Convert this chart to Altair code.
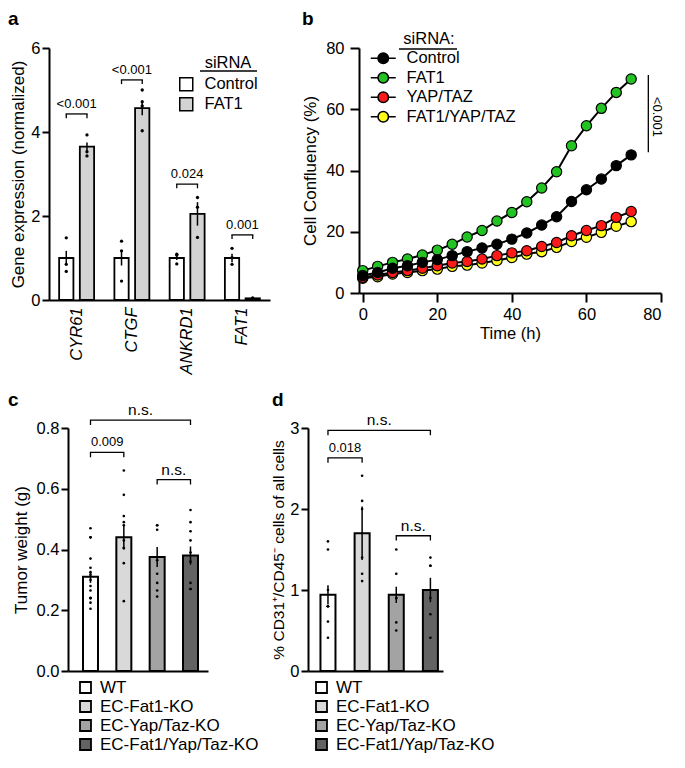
import altair as alt
import pandas as pd

FONT = "Liberation Sans"
LFS = 16.5   # tick / legend label size
TFS = 17     # axis title size

# ---------------- Panel a data ----------------
genes = ["CYR61", "CTGF", "ANKRD1", "FAT1"]
a_groups = ["Control", "FAT1"]
a_colors = ["#ffffff", "#d3d3d3"]
a_mean_control = [1.00, 1.00, 1.00, 1.00]
a_mean_fat1 = [3.65, 4.57, 2.05, 0.04]
a_sem_control = [0.17, 0.18, 0.05, 0.10]
a_sem_fat1 = [0.10, 0.17, 0.28, 0.01]
a_dots_control = [[1.48, 0.85, 0.68], [1.40, 1.17, 0.45], [1.09, 1.07, 0.86], [1.23, 1.01, 0.85]]
a_dots_fat1 = [[3.93, 3.53, 3.43], [5.00, 4.72, 4.62, 4.03], [2.44, 2.21, 1.49], [0.05, 0.04, 0.03]]
a_pvals = ["<0.001", "<0.001", "0.024", "0.001"]
a_bracket_y = [4.43, 5.24, 2.76, 1.55]
a_tick = 0.1

# ---------------- Panel b data ----------------
b_series = ["Control", "FAT1", "YAP/TAZ", "FAT1/YAP/TAZ"]
b_colors = ["#000000", "#22c322", "#ff1a1a", "#ffff1a"]
b_time = [0, 4, 8, 12, 16, 20, 24, 28, 32, 36, 40, 44, 48, 52, 56, 60, 64, 68, 72]
b_control = [5.7, 6.7, 8.1, 8.9, 10.0, 10.9, 12.2, 13.5, 14.7, 15.9, 17.6, 19.6, 22.2, 24.9, 29.9, 33.7, 37.2, 41.6, 45.1]
b_fat1 = [7.3, 8.7, 10.0, 11.1, 12.4, 14.0, 15.9, 18.3, 20.4, 23.5, 26.3, 29.8, 34.3, 39.6, 48.1, 54.6, 60.3, 65.5, 69.9]
b_yaptaz = [5.1, 5.9, 6.7, 7.3, 8.1, 8.9, 9.8, 10.3, 11.1, 12.2, 13.1, 13.8, 15.2, 16.5, 18.7, 20.4, 22.0, 24.7, 26.6]
b_fat1yaptaz = [4.8, 5.3, 6.2, 6.7, 7.3, 7.8, 8.7, 9.1, 9.8, 10.6, 11.6, 12.7, 13.5, 14.9, 16.8, 18.2, 19.8, 21.8, 23.3]
b_sig_x = [76.6]
b_sig_lo = [46.0]
b_sig_hi = [71.2]
b_sig_label = ["<0.001"]
b_sig_label_x = [79.0]
b_sig_label_y = [57.5]

# ---------------- Panel c data ----------------
cd_groups = ["WT", "EC-Fat1-KO", "EC-Yap/Taz-KO", "EC-Fat1/Yap/Taz-KO"]
cd_colors = ["#ffffff", "#d9d9d9", "#a3a3a3", "#636363"]
c_mean = [0.31, 0.44, 0.375, 0.38]
c_sem = [0.02, 0.04, 0.033, 0.03]
c_dots = [
    [0.47, 0.44, 0.44, 0.37, 0.34, 0.325, 0.317, 0.30, 0.28, 0.265, 0.24, 0.24, 0.24, 0.225, 0.205],
    [0.66, 0.58, 0.51, 0.49, 0.48, 0.43, 0.405, 0.405, 0.355, 0.23],
    [0.48, 0.48, 0.465, 0.365, 0.32, 0.29, 0.265, 0.245],
    [0.53, 0.49, 0.46, 0.43, 0.39, 0.36, 0.29, 0.27, 0.27],
]
c_dot_cols = [
    ["C", "L", "R", "C", "C", "L", "R", "C", "C", "C", "L", "C", "R", "C", "C"],
    ["C", "C", "C", "R", "L", "C", "L", "R", "C", "C"],
    ["L", "R", "C", "C", "C", "C", "C", "C"],
    ["C", "C", "C", "C", "C", "C", "C", "L", "R"],
]
c_br_from = ["WT", "WT", "EC-Yap/Taz-KO"]
c_br_to = ["EC-Fat1-KO", "EC-Fat1/Yap/Taz-KO", "EC-Fat1/Yap/Taz-KO"]
c_br_anchor = ["WT", "EC-Fat1-KO", "EC-Yap/Taz-KO"]
c_br_y = [0.72, 0.826, 0.63]
c_br_label = ["0.009", "n.s.", "n.s."]
c_br_fs = [13, 15.5, 15.5]
c_tick = 0.016

# ---------------- Panel d data ----------------
d_mean = [0.94, 1.70, 0.94, 1.00]
d_sem = [0.12, 0.33, 0.10, 0.15]
d_dots = [
    [1.60, 1.50, 1.00, 0.80, 0.80, 0.80, 0.61, 0.41],
    [2.41, 2.10, 2.00, 1.40, 1.20, 1.11],
    [1.50, 1.20, 0.90, 0.90, 0.60, 0.50],
    [1.40, 1.30, 1.30, 0.90, 0.70, 0.41],
]
d_dot_cols = [
    ["C", "C", "C", "L", "C", "R", "C", "C"],
    ["C", "C", "C", "C", "C", "C"],
    ["C", "C", "L", "R", "C", "C"],
    ["C", "L", "R", "C", "C", "C"],
]
d_br_from = ["WT", "WT", "EC-Yap/Taz-KO"]
d_br_to = ["EC-Fat1-KO", "EC-Fat1/Yap/Taz-KO", "EC-Fat1/Yap/Taz-KO"]
d_br_anchor = ["WT", "EC-Fat1-KO", "EC-Yap/Taz-KO"]
d_br_y = [2.63, 2.97, 1.67]
d_br_label = ["0.018", "n.s.", "n.s."]
d_br_fs = [13, 15.5, 15.5]
d_tick = 0.06


def letter(ch, dx, dy):
    return alt.Chart(pd.DataFrame({"t": [ch]})).mark_text(
        fontSize=19, fontWeight="bold", align="left", baseline="top", font=FONT
    ).encode(text="t:N", x=alt.value(dx), y=alt.value(dy))


def free_text(s, x, y, size=LFS):
    return alt.Chart(pd.DataFrame({"t": [s]})).mark_text(
        fontSize=size, align="center", baseline="middle", font=FONT, color="black"
    ).encode(text="t:N", x=alt.value(x), y=alt.value(y))


def free_rule(x1, x2, y):
    return alt.Chart(pd.DataFrame({"t": [0]})).mark_rule(color="black", strokeWidth=1.3).encode(
        x=alt.value(x1), x2=alt.value(x2), y=alt.value(y))


# ================= Panel a =================
A_W, A_H = 221, 252
A_PI, A_PO = 0.31, 0.49
a_off_step = (A_W / len(genes)) / (len(a_groups) - A_PI + 2 * A_PO)

rows = []
for i, g in enumerate(genes):
    rows.append(dict(gene=g, grp="Control", y=a_mean_control[i],
                     lo=a_mean_control[i] - a_sem_control[i], hi=a_mean_control[i] + a_sem_control[i]))
    rows.append(dict(gene=g, grp="FAT1", y=a_mean_fat1[i],
                     lo=a_mean_fat1[i] - a_sem_fat1[i], hi=a_mean_fat1[i] + a_sem_fat1[i]))
a_bars = pd.DataFrame(rows)

drows = []
for i, g in enumerate(genes):
    for v in a_dots_control[i]:
        drows.append(dict(gene=g, grp="Control", y=v))
    for v in a_dots_fat1[i]:
        drows.append(dict(gene=g, grp="FAT1", y=v))
a_dots = pd.DataFrame(drows)

brows = []
for i, g in enumerate(genes):
    for grp in a_groups:
        brows.append(dict(gene=g, grp=grp, y=a_bracket_y[i] - a_tick, y2=a_bracket_y[i]))
a_br_ticks = pd.DataFrame(brows)
a_lab = pd.DataFrame(dict(gene=genes, y=a_bracket_y, t=a_pvals))

ax_a_x = alt.Axis(title=None, labelAngle=270, labelFontStyle="italic", labelFontSize=LFS,
                  ticks=False, labelPadding=7)
ax_a_y = alt.Axis(title="Gene expression (normalized)", values=[0, 2, 4, 6], tickSize=7,
                  labelPadding=2, titlePadding=3, labelFontSize=LFS, titleFontSize=TFS)
xs_a = alt.Scale(domain=genes, paddingInner=0, paddingOuter=0)
ys_a = alt.Scale(domain=[0, 6])
xo_a = alt.XOffset("grp:N", scale=alt.Scale(domain=a_groups, paddingInner=A_PI, paddingOuter=A_PO))


def XA():
    return alt.X("gene:N", sort=genes, scale=xs_a, axis=ax_a_x)


def YA(f="y"):
    return alt.Y(f + ":Q", scale=ys_a, axis=ax_a_y)


a_bar = alt.Chart(a_bars).mark_bar(stroke="black", strokeWidth=1.8).encode(
    x=XA(), xOffset=xo_a, y=YA(),
    fill=alt.Fill("grp:N", scale=alt.Scale(domain=a_groups, range=a_colors),
                  legend=alt.Legend(title=None, orient="none", legendX=129, legendY=28,
                                    symbolType="square", symbolSize=169, symbolStrokeColor="black",
                                    symbolStrokeWidth=1.5, labelFontSize=LFS, labelFont=FONT,
                                    labelOffset=10, rowPadding=0, padding=0, labelColor="black")))
a_err = alt.Chart(a_bars).mark_rule(color="black", strokeWidth=1.5).encode(
    x=XA(), xOffset=xo_a, y=YA("lo"), y2="hi:Q")
a_dot = alt.Chart(a_dots).mark_circle(color="black", size=11, opacity=1).encode(
    x=XA(), xOffset=xo_a, y=YA())
a_brk_v = alt.Chart(a_br_ticks).mark_rule(color="black", strokeWidth=1.3).encode(
    x=XA(), xOffset=xo_a, y=YA(), y2="y2:Q")
a_brk_h = alt.Chart(a_lab).mark_tick(color="black", thickness=1.3, size=a_off_step + 1.3,
                                     orient="horizontal", opacity=1).encode(x=XA(), y=YA())
a_txt = alt.Chart(a_lab).mark_text(fontSize=13, dy=-10, font=FONT, color="black").encode(
    x=XA(), y=YA(), text="t:N")

panel_a = alt.layer(
    a_bar, a_err, a_dot, a_brk_v, a_brk_h, a_txt,
    free_text("siRNA", 179, 15), free_rule(151, 208, 23),
    letter("a", -41, -38),
).properties(width=A_W, height=A_H)

# ================= Panel b =================
order_draw = ["FAT1/YAP/TAZ", "YAP/TAZ", "FAT1", "Control"]
series_vals = {"Control": b_control, "FAT1": b_fat1, "YAP/TAZ": b_yaptaz, "FAT1/YAP/TAZ": b_fat1yaptaz}
brows = []
for s in order_draw:
    for t, v in zip(b_time, series_vals[s]):
        brows.append(dict(s=s, t=t, y=v))
b_df = pd.DataFrame(brows)

ax_b_x = alt.Axis(title="Time (h)", values=[0, 20, 40, 60, 80], tickSize=9, labelPadding=4,
                  titlePadding=3, labelFontSize=LFS, titleFontSize=LFS)
ax_b_y = alt.Axis(title="Cell Confluency (%)", values=[0, 20, 40, 60, 80], tickSize=9, labelPadding=6,
                  titlePadding=6, labelFontSize=LFS, titleFontSize=TFS)
xs_b = alt.Scale(domain=[-1, 80], nice=False)
ys_b = alt.Scale(domain=[0, 80], nice=False)


def XB(f="t"):
    return alt.X(f + ":Q", scale=xs_b, axis=ax_b_x)


def YB(f="y"):
    return alt.Y(f + ":Q", scale=ys_b, axis=ax_b_y)


sym_path = "M-2.08,0H-0.87M0.87,0H2.08M0.87,0A0.87,0.87,0,1,1,-0.87,0A0.87,0.87,0,1,1,0.87,0Z"
b_line = alt.Chart(b_df).mark_line(color="black", strokeWidth=2).encode(
    x=XB(), y=YB(), detail="s:N", order="t:Q")
b_pts = alt.Chart(b_df).mark_circle(size=105, stroke="black", strokeWidth=1.2, opacity=1).encode(
    x=XB(), y=YB(),
    color=alt.Color("s:N", scale=alt.Scale(domain=b_series, range=b_colors),
                    legend=alt.Legend(title=None, orient="none", legendX=16, legendY=2,
                                      symbolType=sym_path, symbolSize=144, symbolStrokeColor="black",
                                      symbolStrokeWidth=1.6, symbolOpacity=1, labelFontSize=LFS,
                                      labelFont=FONT, labelOffset=15, rowPadding=1.5, padding=0,
                                      labelColor="black")))
b_sig = alt.Chart(pd.DataFrame(dict(t=b_sig_x, y=b_sig_lo, y2=b_sig_hi))).mark_rule(
    color="black", strokeWidth=1.3).encode(x=XB(), y=YB(), y2="y2:Q")
b_sig_t = alt.Chart(pd.DataFrame(dict(t=b_sig_label_x, y=b_sig_label_y, lab=b_sig_label))).mark_text(
    angle=90, fontSize=13, font=FONT, color="black").encode(x=XB(), y=YB(), text="lab:N")

panel_b = alt.layer(
    b_line, b_pts, b_sig, b_sig_t,
    free_text("siRNA:", 70, -9), free_rule(40, 98, 1),
    letter("b", -57, -38),
).properties(width=302, height=245)


# ================= Panels c / d =================
def bar_panel(mean, sem, dots, dcols, br_from, br_to, br_anchor, br_y, br_lab, br_fs, tick,
              ymax, yvals, yfmt, ytitle, ytfs, tpad, width, lead, height, pin, pout, align,
              leg_x, leg_y, let, let_x, let_y, key):
    # `lead`: empty strip (px) left of the y axis inside the view
    g = key + "g"
    bars = pd.DataFrame({g: cd_groups, "y": mean,
                         "lo": [m - s for m, s in zip(mean, sem)],
                         "hi": [m + s for m, s in zip(mean, sem)]})
    drows = []
    for i, grp in enumerate(cd_groups):
        for v, c in zip(dots[i], dcols[i]):
            drows.append({g: grp, "y": v, "col": c})
    ddf = pd.DataFrame(drows)
    brows = []
    for j in range(len(br_y)):
        b = br_y[j]
        brows += [{g: br_from[j], "y": b - tick, "k": 0, "id": j},
                  {g: br_from[j], "y": b, "k": 1, "id": j},
                  {g: br_to[j], "y": b, "k": 2, "id": j},
                  {g: br_to[j], "y": b - tick, "k": 3, "id": j}]
    bdf = pd.DataFrame(brows)

    xs = alt.Scale(domain=cd_groups, paddingInner=pin, paddingOuter=pout, align=align,
                   range=[lead, lead + width])
    ys = alt.Scale(domain=[0, ymax], nice=False)
    ax_x = alt.Axis(title=None, labels=False, ticks=False)
    ax_y = alt.Axis(title=ytitle, values=yvals, format=yfmt, tickSize=7, labelPadding=2,
                    titlePadding=tpad, labelFontSize=LFS, titleFontSize=ytfs, offset=-lead)

    def X():
        return alt.X(g + ":N", sort=cd_groups, scale=xs, axis=ax_x)

    def Y(f="y"):
        return alt.Y(f + ":Q", scale=ys, axis=ax_y)

    bar = alt.Chart(bars).mark_bar(stroke="black", strokeWidth=2).encode(
        x=X(), y=Y(),
        fill=alt.Fill(g + ":N", scale=alt.Scale(domain=cd_groups, range=cd_colors),
                      legend=alt.Legend(title=None, orient="none", legendX=lead + leg_x, legendY=leg_y,
                                        symbolType="square", symbolSize=121, symbolStrokeColor="black",
                                        symbolStrokeWidth=1.8, labelFontSize=TFS, labelFont=FONT,
                                        labelOffset=6, rowPadding=0, padding=0, labelLimit=400,
                                        labelColor="black")))
    err = alt.Chart(bars).mark_rule(color="black", strokeWidth=1.5).encode(
        x=X(), y=Y("lo"), y2="hi:Q")
    layers = [bar, err]
    for col, dx in (("L", -3), ("C", 0), ("R", 3)):
        layers.append(alt.Chart(ddf).transform_filter(alt.datum.col == col).mark_circle(
            color="black", size=7, opacity=1, dx=dx).encode(x=X(), y=Y()))
    brk = alt.Chart(bdf).mark_line(color="black", strokeWidth=1.3).encode(
        x=X(), y=Y(), detail="id:N", order="k:Q")
    layers.append(brk)
    half = width / (len(cd_groups) - pin + 2 * pout) / 2
    for j in range(len(br_y)):
        tdf = pd.DataFrame({g: [br_anchor[j]], "y": [br_y[j]], "t": [br_lab[j]]})
        layers.append(alt.Chart(tdf).mark_text(fontSize=br_fs[j], dy=-10, dx=half,
                                               font=FONT, color="black").encode(x=X(), y=Y(), text="t:N"))
    layers.append(letter(let, lead + let_x, let_y))
    return alt.layer(*layers).properties(width=lead + width, height=height)


panel_c = bar_panel(c_mean, c_sem, c_dots, c_dot_cols, c_br_from, c_br_to, c_br_anchor, c_br_y,
                    c_br_label, c_br_fs, c_tick, 0.8, [0, 0.2, 0.4, 0.6, 0.8], ".1f",
                    "Tumor weight (g)", TFS, 6, 140, 19, 243, 0.55, 0.375, 0.6,
                    9, 251, "c", -60, -37, "c")
panel_d = bar_panel(d_mean, d_sem, d_dots, d_dot_cols, d_br_from, d_br_to, d_br_anchor, d_br_y,
                    d_br_label, d_br_fs, d_tick, 3, [0, 1, 2, 3], "d",
                    "% CD31\u207a/CD45\u207b cells of all cells", 15.5, 3, 135, 0, 243, 0.56, 0.257, 0.71,
                    5, 251, "d", -36, -37, "d")

row1 = alt.concat(panel_a, panel_b, columns=2, align="none", spacing=31).resolve_scale(
    x="independent", y="independent", fill="independent", color="independent")
row2 = alt.concat(panel_c, panel_d, columns=2, align="none", spacing=12).resolve_scale(
    x="independent", y="independent", fill="independent", color="independent")

chart = alt.concat(row1, row2, columns=1, align="none", spacing=17).resolve_scale(
    x="independent", y="independent", fill="independent", color="independent"
).properties(padding={"left": 0, "top": 2, "right": 2, "bottom": 0}).configure(font=FONT).configure_view(
    stroke=None).configure_axis(
    domainColor="black", domainWidth=2, tickColor="black", tickWidth=2, labelColor="black",
    titleColor="black", labelFont=FONT, titleFont=FONT, titleFontWeight="normal", grid=False
)

chart.save("out.html", embed_options={"renderer": "svg", "actions": False})
